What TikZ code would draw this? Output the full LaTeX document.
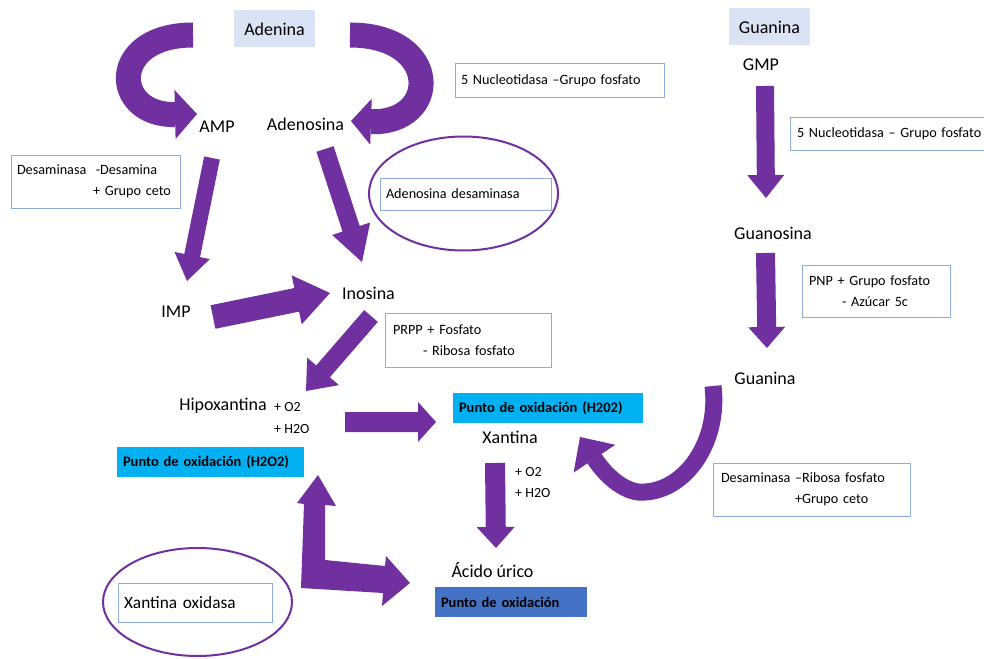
\documentclass[tikz,border=0pt]{standalone}
\usepackage{fontspec}
\setmainfont{Carlito}
\usetikzlibrary{calc,shapes.geometric}
\definecolor{pur}{HTML}{7030A0}
\definecolor{bordc}{HTML}{8FAADC}
\definecolor{lblue}{HTML}{DAE3F3}
\definecolor{cyanb}{HTML}{00B0F0}
\definecolor{dblue}{HTML}{4472C4}
% #1 tail, #2 tip, #3 half band, #4 half head, #5 head length
\newcommand\blkarrow[5]{%
  \path ($(#2)!#5!(#1)$) coordinate (bhb);
  \fill[pur] ($(#1)!#3!90:(#2)$) -- ($(bhb)!#3!90:(#2)$) -- ($(bhb)!#4!90:(#2)$) -- (#2)
    -- ($(bhb)!#4!-90:(#2)$) -- ($(bhb)!#3!-90:(#2)$) -- ($(#1)!#3!-90:(#2)$) -- cycle;}
\begin{document}
\begin{tikzpicture}[x=1pt,y=-1pt,
  lbl/.style={font=\fontsize{18}{21}\selectfont, inner sep=0pt},
  small/.style={font=\fontsize{14}{21}\selectfont, inner sep=0pt, align=left},
  note/.style={draw=bordc, line width=1pt, fill=white, font=\fontsize{14.2}{21}\selectfont,
    align=left, inner xsep=6pt, inner ysep=2pt},
  cbox/.style={font=\bfseries\fontsize{14.5}{17}\selectfont, align=left, inner xsep=6pt, inner ysep=2pt},
  ring/.style={draw=pur, line width=2pt, ellipse, inner sep=0pt},
  band/.style={draw=pur}]
\useasboundingbox (0,0) rectangle (984,658);

% ellipses
\node[ring, minimum width=189pt, minimum height=114pt] (ell1) at (463.5,193.5) {};
\node[ring, minimum width=189pt, minimum height=108pt] (ell2) at (197.5,602) {};

% title boxes
\node[lbl, fill=lblue, minimum width=81pt, minimum height=37pt] (adenina) at (274.5,29) {Adenina};
\node[lbl, fill=lblue, minimum width=81pt, minimum height=37pt] (guaninaT) at (769.5,27) {Guanina};

% labels
\node[lbl] (amp) at (217,127) {AMP};
\node[lbl] (adenosina) at (305.5,124) {Adenosina};
\node[lbl] (gmp) at (761,65) {GMP};
\node[lbl] (guanosina) at (773,233) {Guanosina};
\node[lbl] (guanina) at (765,378) {Guanina};
\node[lbl] (imp) at (176,312) {IMP};
\node[lbl] (inosina) at (368.5,293) {Inosina};
\node[lbl] (hipox) at (223,406) {Hipoxantina};
\node[lbl] (xantina) at (510,437) {Xantina};
\node[lbl] (acido) at (492.5,570) {Ácido úrico};
\node[small, anchor=west] (hipoxs) at (274,418) {+ O2\\+ H2O};
\node[small, anchor=west] (xants) at (515,482) {+ O2\\+ H2O};

% note boxes
\node[note, text width=197pt, minimum height=34pt] (nuc1) at (559.5,81) {5 Nucleotidasa –Grupo fosfato};
\node[note, text width=157pt, minimum height=53pt] (desam) at (95.5,181.5) {Desaminasa \ -Desamina\\\hspace*{76pt}+ Grupo ceto};
\node[note, text width=159pt, minimum height=32pt] (adesam) at (465.5,194) {Adenosina desaminasa};
\node[note, text width=154pt, minimum height=54pt] (prpp) at (468,340) {\hspace*{2pt}PRPP + Fosfato\\\hspace*{32pt}- Ribosa fosfato};
\node[note, text width=198pt, minimum height=33pt] (nuc2) at (895,134) {\hspace*{1pt}5 Nucleotidasa – Grupo fosfato};
\node[note, text width=136pt, minimum height=52pt] (pnp) at (876,291) {\hspace*{1pt}PNP + Grupo fosfato\\\hspace*{34pt}- Azúcar 5c};
\node[note, text width=185pt, minimum height=53pt] (desrib) at (811.5,489.5) {\hspace*{2pt}Desaminasa –Ribosa fosfato\\\hspace*{76pt}+Grupo ceto};
\node[note, font=\fontsize{17.3}{21}\selectfont, text width=142pt, minimum height=39pt] (xox) at (195,602.5) {Xantina oxidasa};

% coloured boxes
\node[cbox, fill=cyanb, text width=175pt, minimum height=30pt] (pox1) at (210.5,462) {Punto de oxidación (H2O2)};
\node[cbox, fill=cyanb, text width=178pt, minimum height=30pt] (pox2) at (548,408) {Punto de oxidación (H202)};
\node[cbox, fill=dblue, text width=140pt, minimum height=30pt] (pox3) at (511,602) {Punto de oxidación};

% straight block arrows
\coordinate (a1t) at (212,158); \coordinate (a1h) at (187,281);
\blkarrow{a1t}{a1h}{8pt}{18pt}{26pt}
\coordinate (a2t) at (325,149); \coordinate (a2h) at (362,262);
\blkarrow{a2t}{a2h}{9pt}{20pt}{35pt}
\coordinate (a3t) at (213,317); \coordinate (a3h) at (330,293);
\blkarrow{a3t}{a3h}{12pt}{25pt}{34pt}
\coordinate (a4t) at (371,316); \coordinate (a4h) at (306,391);
\blkarrow{a4t}{a4h}{9pt}{21pt}{26pt}
\coordinate (a5t) at (345,422); \coordinate (a5h) at (436,422);
\blkarrow{a5t}{a5h}{10pt}{20pt}{18pt}
\coordinate (a6t) at (495,463); \coordinate (a6h) at (496,548);
\blkarrow{a6t}{a6h}{10pt}{19pt}{21pt}
\coordinate (a7t) at (765,86); \coordinate (a7h) at (766,198);
\blkarrow{a7t}{a7h}{9pt}{18.5pt}{23pt}
\coordinate (a8t) at (765.5,253); \coordinate (a8h) at (767,348);
\blkarrow{a8t}{a8h}{9.5pt}{18.5pt}{21pt}

% L-shaped double arrow
\fill[pur] (318,475) -- (336,506) -- (325,505) -- (325,560) -- (385,566) -- (386,556)
  -- (410,583) -- (382,606) -- (383,593) -- (301,588) -- (304,504) -- (297,503) -- cycle;

% curved arrow left (Adenina -> AMP)
\coordinate (lcT) at (193,35); \coordinate (lcC1) at (108,35);
\coordinate (lcC2) at (112,116); \coordinate (lcTip) at (197,114);
\path ($(lcTip)!22pt!(lcC2)$) coordinate (lcH);
\draw[band, line width=25pt] (lcT) .. controls (lcC1) and (lcC2) .. (lcH);
\fill[pur] ($(lcH)!24.5pt!90:(lcTip)$) -- (lcTip) -- ($(lcH)!24.5pt!-90:(lcTip)$) -- cycle;

% curved arrow right (Adenina -> Adenosina)
\coordinate (rcT) at (350,35); \coordinate (rcC1) at (442,35);
\coordinate (rcC2) at (440,124); \coordinate (rcTip) at (351,121);
\path ($(rcTip)!20pt!(rcC2)$) coordinate (rcH);
\draw[band, line width=25pt] (rcT) .. controls (rcC1) and (rcC2) .. (rcH);
\fill[pur] ($(rcH)!23pt!90:(rcTip)$) -- (rcTip) -- ($(rcH)!23pt!-90:(rcTip)$) -- cycle;

% curved arrow Guanina -> Xantina
\coordinate (gcT) at (713,386); \coordinate (gcM) at (638,492);
\coordinate (gcC) at (602,470); \coordinate (gcTip) at (580,437);
\path ($(gcTip)!26pt!(gcC)$) coordinate (gcH);
\draw[band, line width=17pt] (gcT) .. controls (720,445) and (682,495) .. (gcM)
  .. controls (618,489) and (gcC) .. (gcH);
\fill[pur] ($(gcH)!25pt!90:(gcTip)$) -- (gcTip) -- ($(gcH)!25pt!-90:(gcTip)$) -- cycle;
\end{tikzpicture}
\end{document}
